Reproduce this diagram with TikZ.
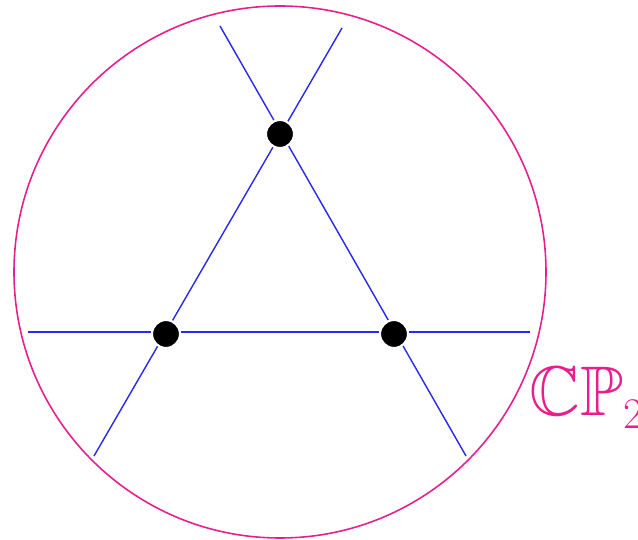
\documentclass[tikz,border=0pt]{standalone}
\usepackage{amsmath,amssymb}
\usepackage{tikz}
\usetikzlibrary{positioning,calc}
\definecolor{cpmagenta}{RGB}{232,30,140}
\definecolor{lineblue}{RGB}{40,40,240}

\begin{document}
\begin{tikzpicture}[
  dot/.style={circle, fill=black, draw=white, line width=1.2pt, inner sep=0pt, minimum size=0.56cm},
  cpline/.style={lineblue, line width=0.8pt}
]
  \useasboundingbox (-5.6,-5.36) rectangle (7.16,5.44);
  % projective plane
  \draw[cpmagenta, line width=0.9pt] (0,0) circle (5.32);
  \node[cpmagenta, anchor=west, inner sep=0pt] (CP) at (4.98,-2.52) {\fontsize{40}{48}\selectfont$\mathbb{CP}_2$};

  % line ends
  \coordinate (H1) at (-5.04,-1.2);
  \coordinate (H2) at (5.0,-1.2);
  \coordinate (L1) at (-3.72,-3.68);
  \coordinate (L2) at (1.24,4.88);
  \coordinate (R1) at (-1.2,4.92);
  \coordinate (R2) at (3.72,-3.68);

  \draw[cpline] (H1) -- (H2);
  \draw[cpline] (L1) -- (L2);
  \draw[cpline] (R1) -- (R2);

  % intersection points
  \node[dot] (top) at (0,2.76) {};
  \node[dot] (left) at (-2.28,-1.24) {};
  \node[dot] (right) at (2.28,-1.24) {};
\end{tikzpicture}
\end{document}
